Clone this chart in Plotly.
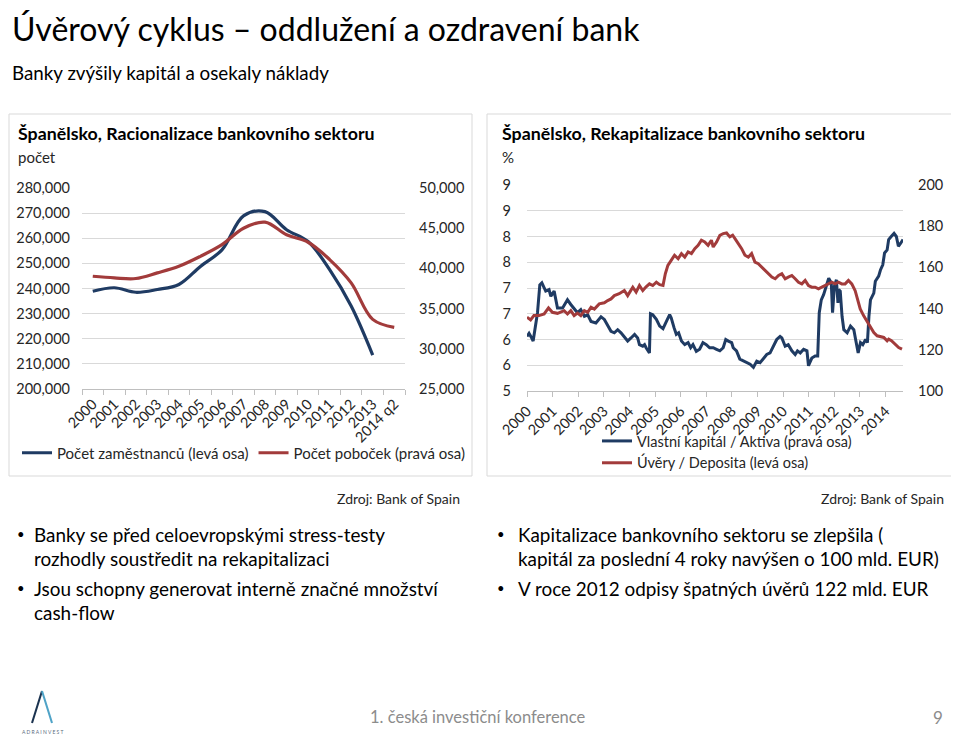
import plotly.graph_objects as go

# ---------------- data: left chart (Racionalizace) ----------------
categories = ["2000", "2001", "2002", "2003", "2004", "2005", "2006", "2007",
              "2008", "2009", "2010", "2011", "2012", "2013", "2014 q2"]
employees = [238900, 240300, 238500, 239600, 241600, 248800, 255400, 268900,
             270600, 263400, 258700, 247500, 233000, 213500, None]
branches = [39020, 38820, 38740, 39440, 40260, 41500, 42950, 45000,
            45750, 44180, 43250, 41100, 38200, 33660, 32670]

# ---------------- data: right chart (Rekapitalizace) ----------------
cap_years = [2000.00, 2000.08, 2000.16, 2000.24, 2000.41, 2000.50, 2000.58, 2000.73, 2000.86, 2000.93,
             2001.06, 2001.19, 2001.39, 2001.58, 2001.71, 2001.84, 2001.97, 2002.10, 2002.24, 2002.37,
             2002.50, 2002.69, 2002.89, 2003.02, 2003.15, 2003.28, 2003.41, 2003.54, 2003.67, 2003.80,
             2003.93, 2004.06, 2004.20, 2004.32, 2004.39, 2004.52, 2004.59, 2004.65, 2004.72, 2004.78,
             2004.82, 2004.91, 2005.05, 2005.18, 2005.31, 2005.40, 2005.48, 2005.57, 2005.63, 2005.74,
             2005.83, 2005.92, 2006.03, 2006.16, 2006.29, 2006.39, 2006.48, 2006.61, 2006.74, 2006.87,
             2007.00, 2007.13, 2007.27, 2007.40, 2007.53, 2007.66, 2007.76, 2007.86, 2007.99, 2008.05,
             2008.18, 2008.31, 2008.44, 2008.58, 2008.71, 2008.84, 2008.97, 2009.10, 2009.23, 2009.36,
             2009.49, 2009.62, 2009.75, 2009.88, 2009.95, 2010.08, 2010.20, 2010.34, 2010.47, 2010.56,
             2010.67, 2010.80, 2010.93, 2010.99, 2011.12, 2011.25, 2011.35, 2011.41, 2011.49, 2011.58,
             2011.67, 2011.78, 2011.88, 2011.93, 2012.00, 2012.08, 2012.14, 2012.17, 2012.23, 2012.30,
             2012.37, 2012.50, 2012.63, 2012.76, 2012.83, 2012.93, 2013.02, 2013.11, 2013.22, 2013.29,
             2013.35, 2013.41, 2013.54, 2013.60, 2013.73, 2013.80, 2013.89, 2013.96, 2014.06, 2014.12,
             2014.22, 2014.33, 2014.42, 2014.50, 2014.59, 2014.68]
cap_values = [6.06, 6.12, 6.05, 5.97, 6.52, 7.06, 7.10, 6.94, 6.97, 6.84,
              6.94, 6.61, 6.61, 6.77, 6.68, 6.61, 6.52, 6.58, 6.45, 6.48,
              6.35, 6.32, 6.44, 6.39, 6.26, 6.16, 6.13, 6.19, 6.13, 6.06,
              5.97, 6.03, 6.10, 6.03, 5.90, 5.87, 5.90, 5.84, 5.77, 5.74,
              6.50, 6.48, 6.39, 6.26, 6.21, 6.32, 6.39, 6.48, 6.42, 6.23,
              6.10, 6.13, 5.97, 5.90, 5.94, 5.84, 5.90, 5.77, 5.81, 5.94,
              5.90, 5.84, 5.84, 5.81, 5.78, 5.84, 6.00, 5.97, 5.94, 5.84,
              5.78, 5.62, 5.59, 5.55, 5.52, 5.46, 5.58, 5.55, 5.64, 5.71,
              5.74, 5.87, 6.00, 6.06, 6.03, 5.87, 5.90, 5.78, 5.71, 5.78,
              5.74, 5.81, 5.78, 5.49, 5.64, 5.68, 5.68, 6.52, 6.77, 6.87,
              7.03, 7.19, 7.10, 6.52, 7.03, 7.16, 6.71, 6.97, 6.94, 6.45,
              6.19, 6.13, 6.26, 6.19, 6.00, 5.74, 5.94, 5.90, 6.00, 5.94,
              6.45, 6.77, 6.90, 7.13, 7.23, 7.35, 7.45, 7.68, 7.74, 7.94,
              8.00, 8.06, 8.00, 7.81, 7.87, 7.94]

ltd_years = [2000.00, 2000.14, 2000.27, 2000.47, 2000.67, 2000.84, 2000.99, 2001.19, 2001.45, 2001.58,
             2001.71, 2001.84, 2001.97, 2002.10, 2002.24, 2002.37, 2002.50, 2002.63, 2002.82, 2003.02,
             2003.15, 2003.28, 2003.41, 2003.60, 2003.80, 2003.93, 2004.13, 2004.26, 2004.39, 2004.52,
             2004.65, 2004.78, 2004.91, 2005.05, 2005.18, 2005.31, 2005.40, 2005.50, 2005.63, 2005.76,
             2005.90, 2006.03, 2006.16, 2006.29, 2006.42, 2006.55, 2006.68, 2006.81, 2006.94, 2007.07,
             2007.20, 2007.27, 2007.40, 2007.53, 2007.66, 2007.79, 2007.92, 2008.03, 2008.12, 2008.25,
             2008.38, 2008.51, 2008.64, 2008.77, 2008.90, 2009.03, 2009.17, 2009.30, 2009.43, 2009.56,
             2009.69, 2009.82, 2009.95, 2010.08, 2010.20, 2010.34, 2010.47, 2010.60, 2010.73, 2010.86,
             2010.99, 2011.12, 2011.25, 2011.38, 2011.51, 2011.64, 2011.78, 2011.90, 2012.03, 2012.16,
             2012.29, 2012.42, 2012.55, 2012.68, 2012.81, 2012.92, 2013.01, 2013.14, 2013.27, 2013.41,
             2013.54, 2013.67, 2013.80, 2013.93, 2014.06, 2014.12, 2014.23, 2014.36, 2014.51, 2014.64]
ltd_values = [135.8, 134.5, 136.6, 136.6, 137.4, 140.3, 138.2, 137.7, 139.0, 137.4,
              139.0, 136.6, 137.8, 136.6, 139.0, 138.2, 140.7, 139.8, 142.3, 142.8,
              143.9, 144.7, 146.3, 147.2, 148.8, 146.3, 150.4, 148.0, 151.2, 148.8,
              150.6, 152.0, 151.2, 152.8, 151.6, 151.2, 156.9, 161.0, 163.4, 165.9,
              164.2, 166.7, 165.0, 167.5, 166.7, 169.1, 170.7, 173.2, 172.4, 170.7,
              173.2, 169.9, 172.3, 175.6, 176.4, 176.7, 174.8, 175.6, 174.0, 171.6,
              169.1, 165.9, 165.0, 166.7, 162.6, 161.8, 160.2, 158.5, 156.9, 155.3,
              154.5, 156.1, 156.9, 154.5, 155.3, 156.1, 154.5, 152.8, 152.0, 153.7,
              151.2, 150.4, 150.4, 149.6, 150.4, 151.2, 152.0, 152.8, 152.0, 152.8,
              152.0, 152.0, 153.7, 152.0, 148.8, 143.9, 139.8, 136.6, 134.1, 130.9,
              128.4, 126.8, 126.4, 126.0, 124.4, 125.2, 124.4, 122.8, 121.1, 120.3]

year_ticks = list(range(2000, 2015))
year_labels = [str(y) for y in year_ticks]
left_pct_ticks = [5, 5.5, 6, 6.5, 7, 7.5, 8, 8.5, 9]
left_pct_labels = ["5", "6", "6", "7", "7", "8", "8", "9", "9"]

# ---------------- styling ----------------
W, H = 959, 739
OFF = 8  # page body margin compensation
FONT = "Lato"
BLUE = "#1F3B63"
RED = "#A23B3B"
GRID = "#D9D9D9"
AXIS = "#BFBFBF"
TXT = "#262626"


def px(x):
    return (x - OFF) / W


def py(y):
    return 1 - (y - OFF) / H


fig = go.Figure()

fig.add_trace(go.Scatter(x=categories, y=employees, name="Počet zaměstnanců (levá osa)",
                         mode="lines", line=dict(color=BLUE, width=3.2, shape="spline", smoothing=1),
                         xaxis="x", yaxis="y", legend="legend"))
fig.add_trace(go.Scatter(x=categories, y=branches, name="Počet poboček (pravá osa)",
                         mode="lines", line=dict(color=RED, width=3.2, shape="spline", smoothing=1),
                         xaxis="x", yaxis="y2", legend="legend"))
fig.add_trace(go.Scatter(x=cap_years, y=cap_values, name="Vlastní kapitál / Aktiva (pravá osa)",
                         mode="lines", line=dict(color=BLUE, width=3),
                         xaxis="x3", yaxis="y3", legend="legend2"))
fig.add_trace(go.Scatter(x=ltd_years, y=ltd_values, name="Úvěry / Deposita (levá osa)",
                         mode="lines", line=dict(color=RED, width=3),
                         xaxis="x3", yaxis="y4", legend="legend2"))

tickfont = dict(family=FONT, size=14.5, color=TXT)

fig.update_layout(
    width=W, height=H, margin=dict(l=0, r=0, t=0, b=0, pad=0), autosize=False,
    paper_bgcolor="white", plot_bgcolor="rgba(0,0,0,0)",
    font=dict(family=FONT, color=TXT),
    xaxis=dict(domain=[px(82), px(405)], anchor="y", type="category",
               range=[-0.5, 14.5], tickangle=-45, tickson="boundaries",
               ticks="outside", ticklen=5, tickcolor=AXIS, showline=True, linecolor=AXIS,
               showgrid=False, tickfont=tickfont, automargin=False),
    yaxis=dict(domain=[py(389), py(188)], anchor="x", range=[200000, 280000], dtick=10000,
               tickformat=",", showgrid=True, gridcolor=GRID, zeroline=False,
               tickfont=tickfont, ticklabelstandoff=11, automargin=False),
    yaxis2=dict(overlaying="y", anchor="x", side="right", range=[25000, 50000], dtick=5000,
                tickformat=",", showgrid=False, zeroline=False, tickfont=tickfont,
                ticklabelstandoff=13, automargin=False),
    xaxis3=dict(domain=[px(527), px(903)], anchor="y3", range=[2000, 2014.68],
                tickvals=year_ticks, ticktext=year_labels, tickangle=-45,
                ticks="outside", ticklen=5, tickcolor=AXIS, showline=True, linecolor=AXIS,
                showgrid=False, zeroline=False, tickfont=tickfont, automargin=False),
    yaxis3=dict(domain=[py(391), py(185)], anchor="x3", range=[5, 9],
                tickvals=left_pct_ticks, ticktext=left_pct_labels, showgrid=True,
                gridcolor=GRID, zeroline=False, tickfont=tickfont, ticklabelstandoff=15,
                automargin=False),
    yaxis4=dict(overlaying="y3", anchor="x3", side="right", range=[100, 200], dtick=20,
                showgrid=False, zeroline=False, tickfont=tickfont, ticklabelstandoff=14,
                automargin=False),
    legend=dict(orientation="h", x=px(17), y=py(453), xanchor="left", yanchor="middle",
                font=dict(family=FONT, size=15, color=TXT), bgcolor="rgba(0,0,0,0)",
                itemwidth=30, traceorder="normal"),
    legend2=dict(orientation="v", x=px(597), y=py(452), xanchor="left", yanchor="middle",
                 font=dict(family=FONT, size=14.5, color=TXT), bgcolor="rgba(0,0,0,0)",
                 itemwidth=30, traceorder="normal", tracegroupgap=0),
    showlegend=True,
)

# panel frames
for x0, x1 in [(9, 472), (487, 955)]:
    fig.add_shape(type="rect", xref="paper", yref="paper",
                  x0=px(x0), x1=px(x1), y0=py(476), y1=py(114),
                  line=dict(color="#D9D9D9", width=1), fillcolor="rgba(0,0,0,0)", layer="below")

# logo (A shape)
fig.add_shape(type="line", xref="paper", yref="paper", x0=px(42), y0=py(691), x1=px(32), y1=py(723),
              line=dict(color="#1B3350", width=2))
fig.add_shape(type="line", xref="paper", yref="paper", x0=px(42), y0=py(691), x1=px(52), y1=py(723),
              line=dict(color="#4FA3C7", width=2))


def note(text, x, y, size, color=TXT, anchor="left", bold=False, vanchor="middle"):
    fig.add_annotation(text=f"<b>{text}</b>" if bold else text, xref="paper", yref="paper",
                       x=px(x), y=py(y), xanchor=anchor, yanchor=vanchor, showarrow=False,
                       borderpad=0, font=dict(family=FONT, size=size, color=color))


note("Úvěrový cyklus – oddlužení a ozdravení bank", 11, 8, 32, "#000000", vanchor="top")
note("Banky zvýšily kapitál a osekaly náklady", 11, 72, 18.8, "#000000")
note("Španělsko, Racionalizace bankovního sektoru", 17, 133, 17.8, "#000000", bold=True)
note("počet", 17, 157, 15, "#262626")
note("Španělsko, Rekapitalizace bankovního sektoru", 501, 133, 17.8, "#000000", bold=True)
note("%", 501, 157, 15, "#262626")
note("Zdroj: Bank of Spain", 461, 498, 14, anchor="right")
note("Zdroj: Bank of Spain", 945, 498, 14, anchor="right")

note("•", 16, 534, 13, "#000000")
note("Banky se před celoevropskými stress-testy", 33, 534, 18.9, "#000000")
note("rozhodly soustředit na rekapitalizaci", 33, 558, 18.9, "#000000")
note("•", 16, 588, 13, "#000000")
note("Jsou schopny generovat interně značné množství", 33, 588, 18.9, "#000000")
note("cash-flow", 33, 612, 18.9, "#000000")
note("•", 496, 534, 13, "#000000")
note("Kapitalizace bankovního sektoru se zlepšila (", 517, 534, 18.9, "#000000")
note("kapitál za poslední 4 roky navýšen o 100 mld. EUR)", 517, 558, 18.9, "#000000")
note("•", 496, 588, 13, "#000000")
note("V roce 2012 odpisy špatných úvěrů 122 mld. EUR", 517, 588, 18.9, "#000000")

note("1. česká investiční konference", 369, 717, 16.5, "#8C8C8C")
note("9", 944, 717, 17, "#8C8C8C", anchor="right")
note("A D R A I N V E S T", 42, 732, 5, "#5A6B7D", anchor="center")

fig.write_html("out.html")
